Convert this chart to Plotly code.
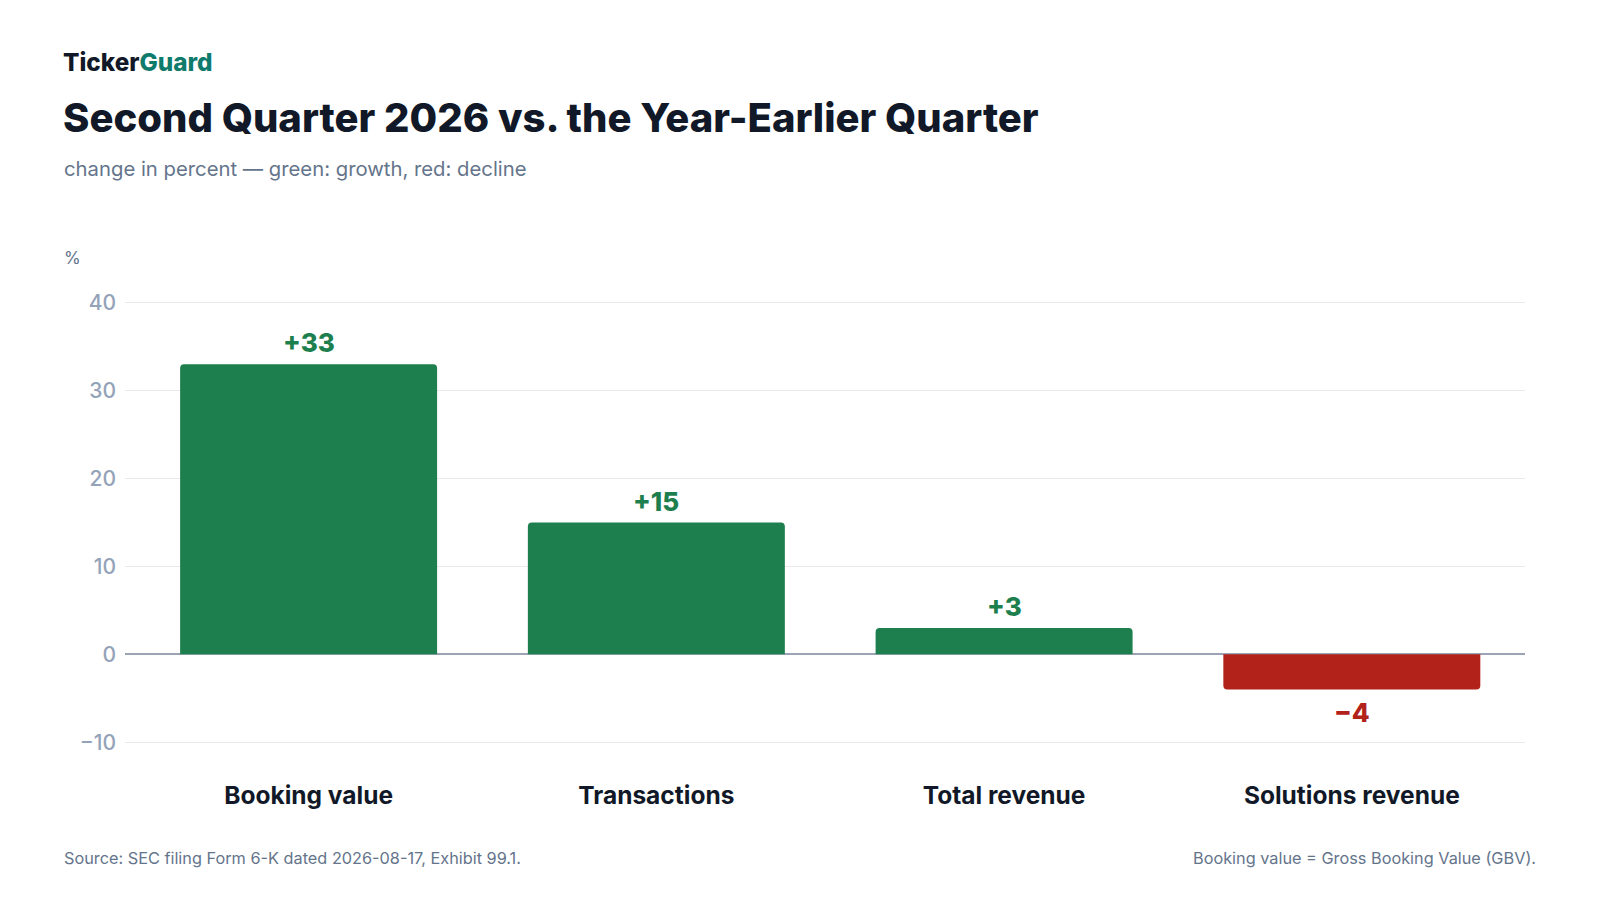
import plotly.graph_objects as go

categories = ["Booking value", "Transactions", "Total revenue", "Solutions revenue"]
values = [33, 15, 3, -4]
value_labels = ["+33", "+15", "+3", "\u22124"]
y_ticks = [-10, 0, 10, 20, 30, 40]
y_tick_labels = ["\u221210", "0", "10", "20", "30", "40"]

GREEN = "#1e7f4e"
RED = "#b2221a"
DARK = "#111827"
MUTED = "#64748b"
TICK = "#94a3b8"
FONT = "Inter"

W, H = 1600, 900
L, R, T, B = 116.5, 82.5, 286.2, 157.4
PW, PH = W - L - R, H - T - B


def px(x):
    return (x - L) / PW


def py(y):
    return (H - B - y) / PH


colors = [GREEN if v >= 0 else RED for v in values]

fig = go.Figure()
fig.add_trace(go.Bar(
    x=categories, y=values, marker=dict(color=colors, line=dict(width=0)),
    width=0.739, hoverinfo="skip",
))

annotations = []
for c, v, lab, col in zip(categories, values, value_labels, colors):
    annotations.append(dict(
        x=c, y=v, xref="x", yref="y", text=lab, showarrow=False,
        font=dict(family=FONT, size=26, color=col, weight=800),
        yanchor="bottom" if v >= 0 else "top", yshift=4 if v >= 0 else -6,
    ))

annotations += [
    dict(x=px(52), y=py(55), xref="paper", yref="paper", xanchor="left", yanchor="middle",
         text="Ticker<span style='color:#0f7b6c'>Guard</span>", showarrow=False,
         font=dict(family=FONT, size=24.3, color=DARK, weight=800)),
    dict(x=px(52.5), y=py(110), xref="paper", yref="paper", xanchor="left", yanchor="middle",
         text="Second Quarter 2026 vs. the Year-Earlier Quarter", showarrow=False,
         font=dict(family=FONT, size=40, color=DARK, weight=800)),
    dict(x=px(53), y=py(161), xref="paper", yref="paper", xanchor="left", yanchor="middle",
         text="change in percent \u2014 green: growth, red: decline", showarrow=False,
         font=dict(family=FONT, size=20.3, color=MUTED)),
    dict(x=px(53), y=py(250), xref="paper", yref="paper", xanchor="left", yanchor="middle",
         text="%", showarrow=False, font=dict(family=FONT, size=17, color=MUTED)),
    dict(x=px(53), y=py(849), xref="paper", yref="paper", xanchor="left", yanchor="middle",
         text="Source: SEC filing Form 6-K dated 2026-08-17, Exhibit 99.1.", showarrow=False,
         font=dict(family=FONT, size=16.3, color=MUTED)),
    dict(x=px(1530.7), y=py(849), xref="paper", yref="paper", xanchor="right", yanchor="middle",
         text="Booking value = Gross Booking Value (GBV).", showarrow=False,
         font=dict(family=FONT, size=16.3, color=MUTED)),
]

fig.update_layout(
    width=W, height=H,
    margin=dict(l=L, r=R, t=T, b=B, pad=0),
    paper_bgcolor="white", plot_bgcolor="white",
    showlegend=False,
    barcornerradius=4,
    font=dict(family=FONT),
    annotations=annotations,
    xaxis=dict(
        range=[-0.528, 3.498], showgrid=False, showline=False, ticks="",
        tickfont=dict(family=FONT, size=24.5, color=DARK, weight=700),
        ticklabelstandoff=27, fixedrange=True,
    ),
    yaxis=dict(
        range=[-11, 41], tickvals=y_ticks, ticktext=y_tick_labels,
        showgrid=True, gridcolor="#e8eaee", gridwidth=1,
        zeroline=True, zerolinecolor="#9ca3b4", zerolinewidth=2,
        showline=False, ticks="",
        tickfont=dict(family=FONT, size=21, color=TICK, weight=500),
        ticklabelstandoff=8, fixedrange=True,
    ),
)

fig.write_html("out.html")
